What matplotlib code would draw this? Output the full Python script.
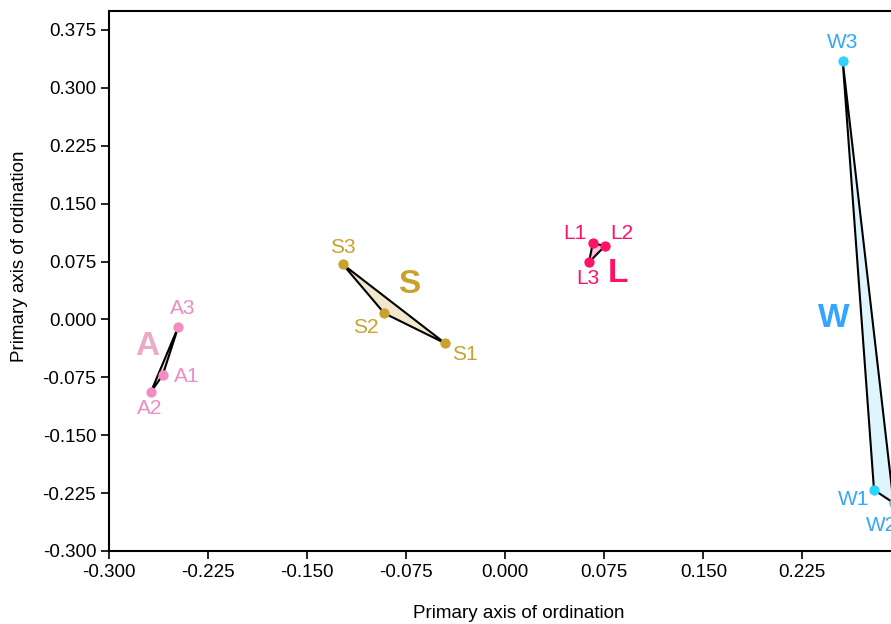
import numpy as np
import matplotlib.pyplot as plt

plt.rcParams['font.family'] = ['Liberation Sans', 'DejaVu Sans']

# Ordination scores for each group (3 replicates each)
groups = ["A", "S", "L", "W"]
x_scores = {
    "A": [-0.2596, -0.2686, -0.2477],
    "S": [-0.0457, -0.0917, -0.1232],
    "L": [0.0662, 0.0755, 0.0634],
    "W": [0.2793, 0.2941, 0.2556],
}
y_scores = {
    "A": [-0.0723, -0.0943, -0.0093],
    "S": [-0.0308, 0.0080, 0.0715],
    "L": [0.0987, 0.0952, 0.0741],
    "W": [-0.2209, -0.2377, 0.3342],
}
# group label anchors
label_x = {"A": -0.2716, "S": -0.0730, "L": 0.0856, "W": 0.2485}
label_y = {"A": -0.0356, "S": 0.0447, "L": 0.0598, "W": 0.0016}

point_col = {"A": "#f48cc2", "S": "#c9a22e", "L": "#ff1166", "W": "#2ed2ff"}
text_col = {"A": "#ee8cc4", "S": "#c9a22e", "L": "#ff1166", "W": "#33a6ff"}
big_col = {"A": "#ebaac8", "S": "#c9a22e", "L": "#ff1166", "W": "#33a6ff"}
fill_col = {"A": "#f9d3e6", "S": "#f1e7cc", "L": "#ffc2d8", "W": "#dff5fd"}

# label offsets in points for each replicate label
offsets = {
    "A": [(17, -1), (-1, -12), (3, 13)],
    "S": [(14, -8), (-13, -10), (0, 12)],
    "L": [(-13, 7), (12, 9), (-1, -12)],
    "W": [(-15, -7), (-9, -16), (0, 14)],
}

fig = plt.figure(figsize=(8.91, 6.24), dpi=100)
ax = fig.add_axes([0.1227, 0.117, 0.8889, 0.8659])

for g in groups:
    xs, ys = x_scores[g], y_scores[g]
    ax.fill(xs, ys, facecolor=fill_col[g], edgecolor="black", linewidth=1.5, zorder=2)
    ax.scatter(xs, ys, s=55, color=point_col[g], zorder=3, linewidths=0)
    for i, (x, y) in enumerate(zip(xs, ys)):
        ax.annotate(f"{g}{i + 1}", (x, y), xytext=offsets[g][i], textcoords="offset points",
                    ha="center", va="center", fontsize=15, color=text_col[g], zorder=4)
    ax.text(label_x[g], label_y[g], g, fontsize=24, fontweight="bold", color=big_col[g],
            ha="center", va="center", zorder=4)

ax.set_xlim(-0.3, 0.3)
ax.set_ylim(-0.3, 0.4)
ax.set_xticks(np.arange(-0.3, 0.226, 0.075))
ax.set_yticks(np.arange(-0.3, 0.376, 0.075))
ax.xaxis.set_major_formatter(plt.FormatStrFormatter('%.3f'))
ax.yaxis.set_major_formatter(plt.FormatStrFormatter('%.3f'))
ax.tick_params(direction="out", length=6, width=1.2, labelsize=13.5)
for sp in ax.spines.values():
    sp.set_linewidth(1.5)

ax.set_xlabel("Primary axis of ordination", fontsize=13.5, va="center")
ax.set_ylabel("Primary axis of ordination", fontsize=13.5, va="center")
ax.xaxis.set_label_coords(0.517, -0.1166)
ax.yaxis.set_label_coords(-0.1140, 0.546)

fig.savefig("out.png", dpi=100)
